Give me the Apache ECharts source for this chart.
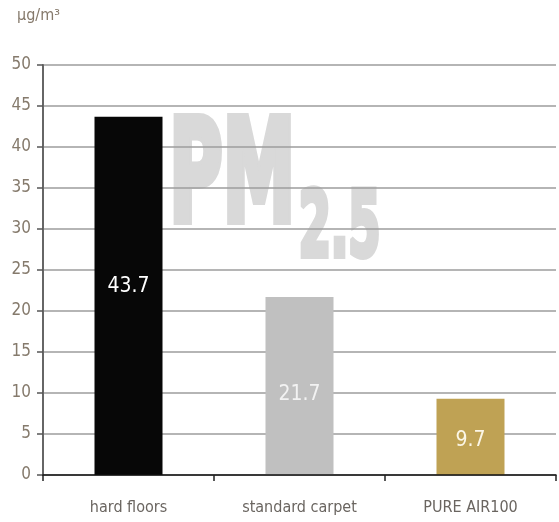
<!DOCTYPE html>
<html><head><meta charset="utf-8">
<script src="https://cdn.jsdelivr.net/npm/echarts@6/dist/echarts.min.js"></script>
<style>html,body{margin:0;padding:0;background:#fff}#c{width:559px;height:522px}</style>
</head><body><div id="c"></div>
<script>
const categories = ['hard floors', 'standard carpet', 'PURE AIR100'];
const values = [43.7, 21.7, 9.3];
const valueLabels = ['43.7', '21.7', '9.7'];
const barColors = ['#070707', '#c0c0c0', '#bfa254'];
const labelColors = ['#ffffff', '#f2f2f2', '#fbf6e6'];
const yTicks = [0, 5, 10, 15, 20, 25, 30, 35, 40, 45, 50];
const unit = 'µg/m³';

const FONT = "'Liberation Sans Narrow','DejaVu Sans Condensed','Roboto',sans-serif";
const labelOffsets = [[0, -9], [0, 9], [0, 4]];
const chart = echarts.init(document.getElementById('c'));
chart.setOption({
  animation: false,
  grid: { left: 43, right: 3, top: 65, bottom: 47 },
  graphic: [
    { type: 'text', z: -10, left: 167, top: 109, scaleX: 0.57,
      style: { text: 'PM', font: "bold 142px " + FONT, fill: '#d9d9d9', stroke: '#d9d9d9', lineWidth: 8 } },
    { type: 'text', z: -10, left: 297, top: 185, scaleX: 0.57,
      style: { text: '2.5', font: "bold 90px " + FONT, fill: '#d9d9d9', stroke: '#d9d9d9', lineWidth: 6 } },
    { type: 'text', left: 17, top: 8,
      style: { text: unit, font: "16px " + FONT, fill: '#85796b' } }
  ],
  xAxis: {
    type: 'category', data: categories,
    axisLine: { lineStyle: { color: '#111', width: 1.5 } },
    axisTick: { show: true, alignWithLabel: false, length: 6, lineStyle: { color: '#222', width: 1.5 } },
    axisLabel: { color: '#6a6560', fontFamily: FONT, fontSize: 16, margin: 25 },
    z: 5
  },
  yAxis: {
    type: 'value', min: yTicks[0], max: yTicks[yTicks.length - 1], interval: 5,
    axisLine: { show: true, lineStyle: { color: '#666', width: 2 } },
    axisTick: { show: true, length: 6, lineStyle: { color: '#555', width: 1.5 } },
    axisLabel: { color: '#857a6c', fontFamily: FONT, fontSize: 17, margin: 12 },
    splitLine: { show: true, lineStyle: { color: '#9c9c9c', width: 1.6 } }
  },
  series: [{
    type: 'bar', barWidth: 68, z: 3,
    data: values.map((v, i) => ({
      value: v,
      itemStyle: { color: barColors[i] },
      label: { show: true, position: 'inside', formatter: valueLabels[i], color: labelColors[i],
        offset: labelOffsets[i], fontFamily: FONT, fontSize: 21 }
    }))
  }]
});
</script></body></html>
